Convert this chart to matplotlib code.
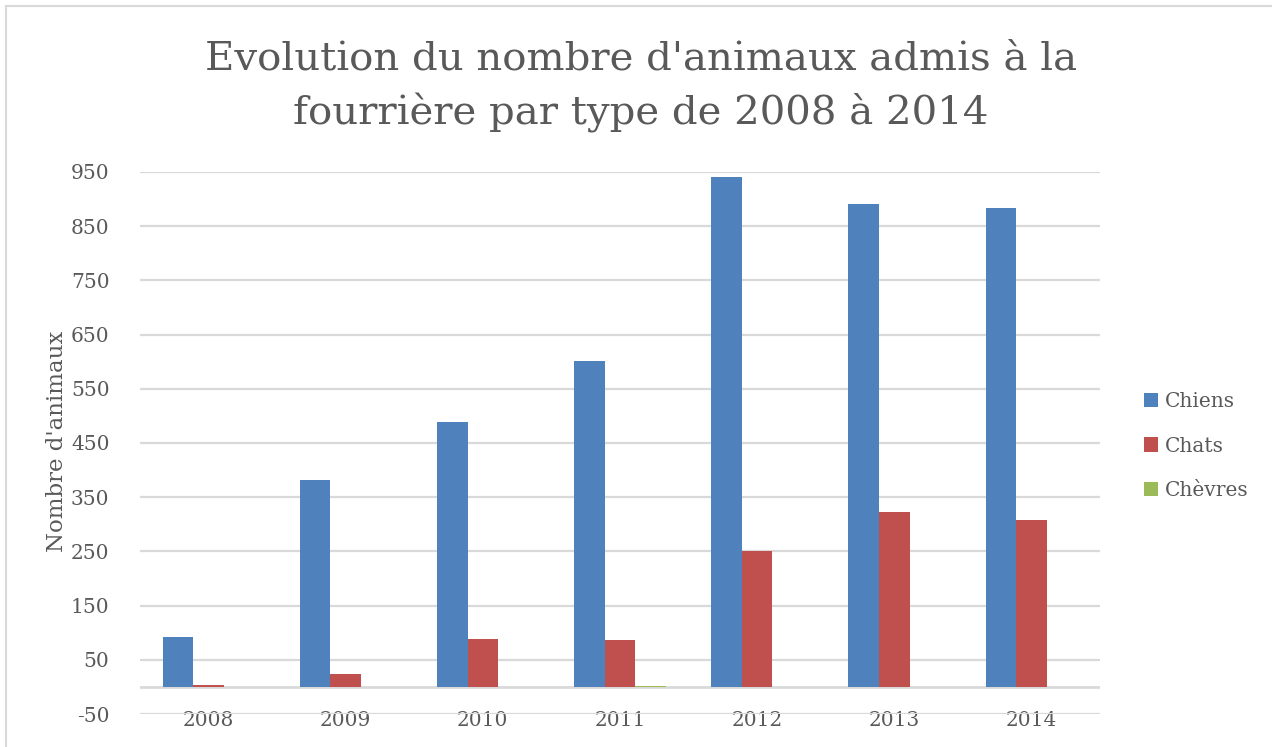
import matplotlib
matplotlib.use("Agg")
import matplotlib.pyplot as plt
import numpy as np
from matplotlib.patches import Rectangle

years = ["2008", "2009", "2010", "2011", "2012", "2013", "2014"]
chiens = [92, 381, 488, 602, 941, 891, 884]
chats = [3, 24, 88, 87, 250, 322, 308]
chevres = [0, 0, 0, 2, 0, 0, 0]
series_names = ["Chiens", "Chats", "Chèvres"]
colors = ["#4F81BD", "#C0504D", "#9BBB59"]
yticks = [-50, 50, 150, 250, 350, 450, 550, 650, 750, 850, 950]

title_lines = ["Evolution du nombre d'animaux admis à la",
               "fourrière par type de 2008 à 2014"]
ylabel = "Nombre d'animaux"

TEXT = "#595959"
GRID = "#D9D9D9"
FONT = "DejaVu Serif"
plt.rcParams['font.family'] = [FONT]

W, H = 1272, 747
fig = plt.figure(figsize=(W / 100, H / 100), dpi=100)
ax = fig.add_axes([140 / W, 1 - 714 / H, 960 / W, (714 - 172) / H])

x = np.arange(len(years))
bw = 0.223
for i, (vals, name, c) in enumerate(zip([chiens, chats, chevres], series_names, colors)):
    ax.bar(x + (i - 1) * bw, vals, width=bw, color=c, label=name,
           edgecolor="none", zorder=3)

ax.set_xlim(-0.5, len(years) - 0.5)
ax.set_ylim(-50, 950)
ax.set_yticks(yticks)
ax.set_yticklabels([str(v) for v in yticks])
ax.yaxis.grid(True, color=GRID, linewidth=1.6, zorder=0)
ax.axhline(0, color=GRID, linewidth=2.0, zorder=1)
ax.set_axisbelow(True)
for s in ["top", "right", "left"]:
    ax.spines[s].set_visible(False)
ax.spines["bottom"].set_position(("data", 0))
ax.spines["bottom"].set_visible(False)
ax.set_xticks(x)
ax.set_xticklabels(years)
ax.tick_params(axis="x", length=0, pad=17, labelsize=14.5, labelcolor=TEXT)
ax.tick_params(axis="y", length=0, pad=22, labelsize=14.5, labelcolor=TEXT)

for t in ax.get_xticklabels():
    t.set_zorder(5)

fig.text(641 / W, 1 - 59 / H, title_lines[0], ha="center", va="center",
         fontsize=29, color=TEXT)
fig.text(641 / W, 1 - 113 / H, title_lines[1], ha="center", va="center",
         fontsize=29, color=TEXT)

fig.text(57 / W, 1 - 441 / H, ylabel, rotation=90, ha="center", va="center",
         fontsize=16.5, color=TEXT)

leg = ax.legend(loc="center left", bbox_to_anchor=(1126 / W, 1 - 446 / H),
                bbox_transform=fig.transFigure, frameon=False,
                fontsize=14.5, handlelength=0.7, handleheight=0.7,
                handletextpad=0.35, labelspacing=1.27, labelcolor=TEXT)

fig.patches.append(Rectangle((6 / W, -0.1), 1.2, 1 - 6 / H + 0.1,
                             transform=fig.transFigure, fill=False,
                             edgecolor="#D9D9D9", linewidth=1.5))

fig.savefig("out.png", dpi=100, facecolor="white")
